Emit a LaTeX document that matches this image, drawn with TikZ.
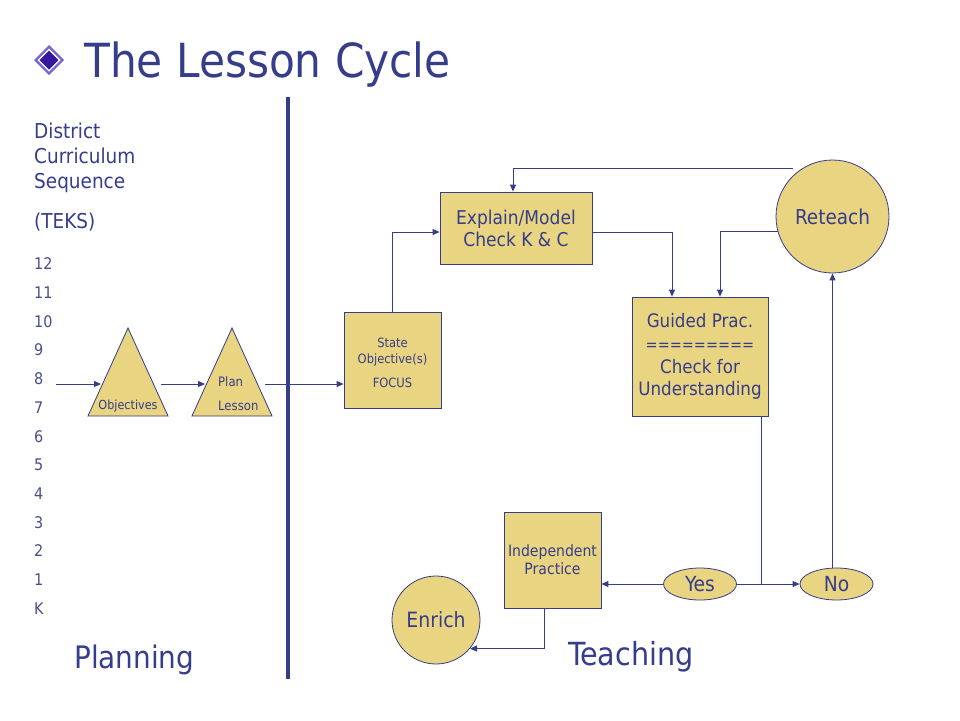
\documentclass[tikz,border=0pt]{standalone}
\usepackage{fontspec}
\setmainfont{DejaVu Sans Condensed}
\usetikzlibrary{arrows.meta,shapes.geometric}
\definecolor{navy}{HTML}{363D8A}
\definecolor{greynavy}{HTML}{4A4E86}
\definecolor{sand}{HTML}{E9D481}
\definecolor{violet}{HTML}{7466D6}
\definecolor{indigo}{HTML}{35189E}
\tikzset{
  fs/.style={font=\fontsize{#1}{#1}\selectfont},
  box/.style={draw=navy, fill=sand, line width=0.8pt, inner sep=0pt, align=center, text=navy},
  circ/.style={box, circle},
  oval/.style={box, ellipse, minimum width=73pt, minimum height=32pt},
  tri/.style={draw=navy, fill=sand, line width=0.8pt},
  flow/.style={draw=navy, line width=0.9pt, -{Triangle[length=7pt,width=6pt]}},
  link/.style={draw=navy, line width=0.9pt},
  lbl/.style={text=navy, inner sep=0pt}
}
\begin{document}
\begin{tikzpicture}[x=1pt,y=-1pt]
    \useasboundingbox[fill=white] (0,0) rectangle (960,720);

    % title
    \fill[violet] (49,45) -- (64,60) -- (49,75) -- (34,60) -- cycle;
    \fill[white] (49,48.5) -- (60.5,60) -- (49,71.5) -- (37.5,60) -- cycle;
    \fill[indigo] (49,50.5) -- (58.5,60) -- (49,69.5) -- (39.5,60) -- cycle;
    \node[lbl, fs=47, anchor=base west] (title) at (84,77) {The Lesson Cycle};

    % divider
    \draw[navy, line width=3.5pt] (288,97) -- (288,679);

    % planning side
    \node[lbl, fs=20.5, anchor=base west] (dist) at (34,138) {District};
    \node[lbl, fs=20.5, anchor=base west] (curr) at (34,163) {Curriculum};
    \node[lbl, fs=20.5, anchor=base west] (seq) at (34,188) {Sequence};
    \node[lbl, fs=20.5, anchor=base west] (teks) at (34,228) {(TEKS)};
    \foreach \g [count=\i from 0] in {12,11,10,9,8,7,6,5,4,3,2,1,K}{
        \node[lbl, text=greynavy, fs=16, anchor=west] (g\i) at (34,264+28.7*\i) {\g};
    };

    \draw[tri] (128,328) -- (168,416) -- (88,416) -- cycle;
    \draw[tri] (232,328) -- (272,416) -- (192,416) -- cycle;
    \node[lbl, fs=12.5] (objlbl) at (128,406) {Objectives};
    \node[lbl, fs=13, anchor=west] (planlbl) at (218,382) {Plan};
    \node[lbl, fs=13, anchor=west] (lessonlbl) at (218,406) {Lesson};
    \coordinate (feed) at (56,384);
    \coordinate (objin) at (101,384);
    \coordinate (objout) at (161,384);
    \coordinate (planin) at (205,384);
    \coordinate (planout) at (265,384);
    \draw[flow] (feed) -- (objin);
    \draw[flow] (objout) -- (planin);
    \node[lbl, fs=31, anchor=base west] (planning) at (74,668) {Planning};

    % teaching side
    \node[box, minimum width=97pt, minimum height=96pt] (state) at (392.5,360) {};
    \node[lbl, fs=12.8, align=center] (statetxt) at ([yshift=-3pt]state.center) {State\\[3pt]Objective(s)\\[11pt]FOCUS};
    \node[box, fs=19, minimum width=152pt, minimum height=72pt] (explain) at (516,228) {Explain/Model\\[3pt]Check K \& C};
    \node[box, fs=18.6, minimum width=136pt, minimum height=119pt] (guided) at (700,356.5) {Guided Prac.\\[3.7pt]{\fontsize{16}{16}\selectfont =========}\\[4.5pt]Check for\\[3.7pt]Understanding};
    \node[circ, fs=20.5, minimum size=113pt] (reteach) at (832.5,216.5) {Reteach};
    \node[oval, fs=20.8] (yes) at (700,584) {Yes};
    \node[oval, fs=20.8] (no) at (836.5,584) {No};
    \node[box, fs=15.6, minimum width=97pt, minimum height=96pt] (indep) at (552.5,560) {Independent\\[2.4pt]Practice};
    \node[circ, fs=21, minimum size=88pt] (enrich) at (436,620) {Enrich};
    \node[lbl, fs=31.8, anchor=base west] (teaching) at (568,665) {Teaching};

    \coordinate (rtop) at (793,168);
    \coordinate (jn) at (761,584);
    \draw[flow] (planout) -- (planout -| state.west);
    \draw[flow] (state.north) |- ([yshift=-4pt]explain.west);
    \draw[flow] (rtop) -| ([xshift=-3pt]explain.north);
    \draw[flow] ([yshift=-4pt]explain.east) -| ([xshift=-28pt]guided.north);
    \draw[flow] (reteach.195) -| ([xshift=20pt]guided.north);
    \draw[link] ([xshift=61pt]guided.south) -- (jn);
    \draw[link] (yes.east) -- (jn);
    \draw[flow] (jn) -- (no.west);
    \draw[flow] (no.north -| reteach.south) -- (reteach.south);
    \draw[flow] (yes.west) -- (yes.west -| indep.east);
    \draw[flow] ([xshift=-8pt]indep.south) |- (enrich.-40);
\end{tikzpicture}
\end{document}
